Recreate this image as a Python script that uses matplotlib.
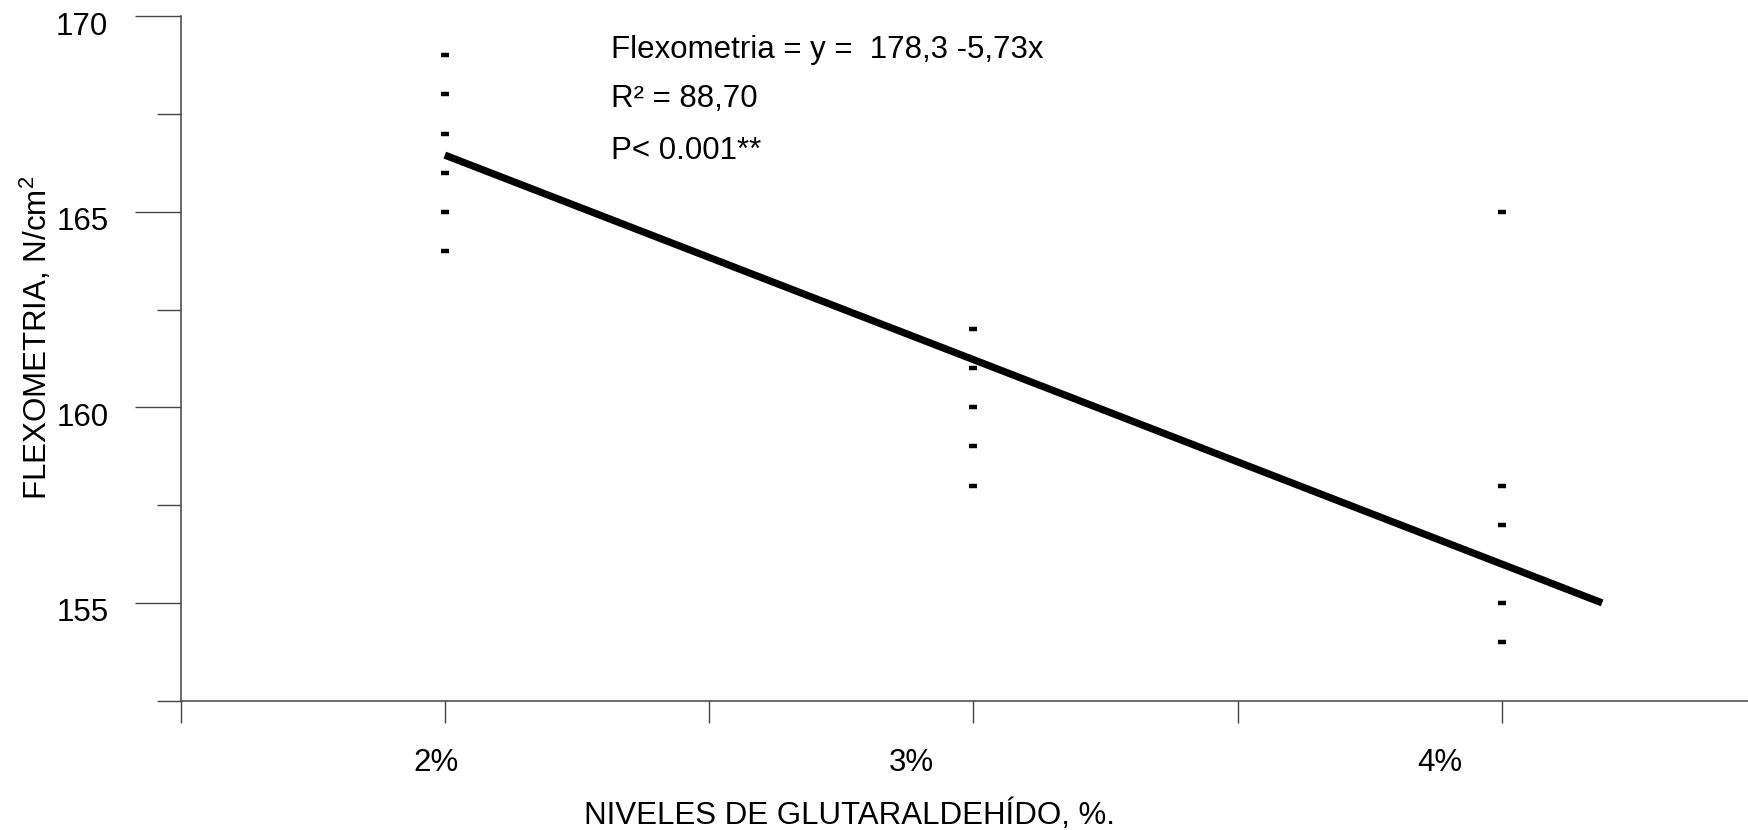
import numpy as np
import matplotlib
matplotlib.use("Agg")
import matplotlib.pyplot as plt
from matplotlib.ticker import FixedLocator, NullFormatter
from matplotlib.transforms import ScaledTranslation

plt.rcParams['font.family'] = ['Liberation Sans', 'DejaVu Sans']
plt.rcParams['mathtext.fontset'] = 'custom'
plt.rcParams['mathtext.rm'] = 'Liberation Sans'
plt.rcParams['mathtext.default'] = 'regular'

# glutaraldehyde level (%) and flexometry readings per replicate
level_2 = [169, 168, 167, 166, 165, 164]
level_3 = [162, 161, 160, 159, 158]
level_4 = [165, 158, 157, 156, 155, 154]

# fitted regression line endpoints
fit_x = [2.0, 4.19]
fit_y = [166.45, 155.0]

x_labels = ['2%', '3%', '4%']
x_major = [2, 3, 4]
x_minor = [1.5, 2.5, 3.5]
y_major = [155, 160, 165, 170]
y_minor = [152.5, 157.5, 162.5, 167.5]

FS = 22.5
fig = plt.figure(figsize=(17.48, 8.30), dpi=100)
ax = fig.add_axes([0.1033, 0.1558, 0.8967, 0.8246])

spine_col = '#444444'
ax.plot(fit_x, fit_y, color='black', lw=5.2, solid_capstyle='butt', zorder=2)
for x, vals in zip(x_major, [level_2, level_3, level_4]):
    ax.plot([x] * len(vals), vals, linestyle='none', marker='_',
            markersize=6, markeredgewidth=3.2, color='black', zorder=3)

ax.set_xlim(1.5, 4.466)
ax.set_ylim(152.5, 170)

ax.spines['top'].set_visible(False)
ax.spines['right'].set_visible(False)
for s in ('left', 'bottom'):
    ax.spines[s].set_color(spine_col)
    ax.spines[s].set_linewidth(1.1)

ax.xaxis.set_major_locator(FixedLocator(x_major))
ax.xaxis.set_minor_locator(FixedLocator(x_minor))
ax.set_xticklabels(x_labels)
ax.xaxis.set_minor_formatter(NullFormatter())
ax.yaxis.set_major_locator(FixedLocator(y_major))
ax.yaxis.set_minor_locator(FixedLocator(y_minor))
ax.yaxis.set_minor_formatter(NullFormatter())

ax.tick_params(axis='x', which='both', direction='out', length=16, width=1.0,
               color=spine_col, labelsize=FS, pad=18)
ax.tick_params(axis='y', which='major', direction='out', length=33, width=1.0,
               color=spine_col, labelsize=FS, pad=19)
ax.tick_params(axis='y', which='minor', direction='out', length=17, width=1.0,
               color=spine_col)

# nudge tick labels (pixel offsets at 100 dpi)
for lab in ax.get_yticklabels():
    lab.set_transform(lab.get_transform() +
                      ScaledTranslation(0, -0.07, fig.dpi_scale_trans))
for lab, dx in zip(ax.get_xticklabels(), [-0.09, -0.62, -0.62]):
    lab.set_transform(lab.get_transform() +
                      ScaledTranslation(dx, 0, fig.dpi_scale_trans))

# regression summary
tx = 2.315
ax.text(tx, 168.93, 'Flexometria = y =  178,3 -5,73x', fontsize=FS, va='baseline')
ax.text(tx, 167.68, 'R² = 88,70', fontsize=FS, va='baseline')
ax.text(tx, 166.35, 'P< 0.001**', fontsize=FS, va='baseline')

fig.text(0.021, 0.593, 'FLEXOMETRIA, N/cm$^2$', rotation=90, fontsize=FS,
         ha='center', va='center')
fig.text(0.486, 0.018, 'NIVELES DE GLUTARALDEHÍDO, %.', fontsize=FS,
         ha='center', va='center')

fig.savefig('out.png', dpi=100)
